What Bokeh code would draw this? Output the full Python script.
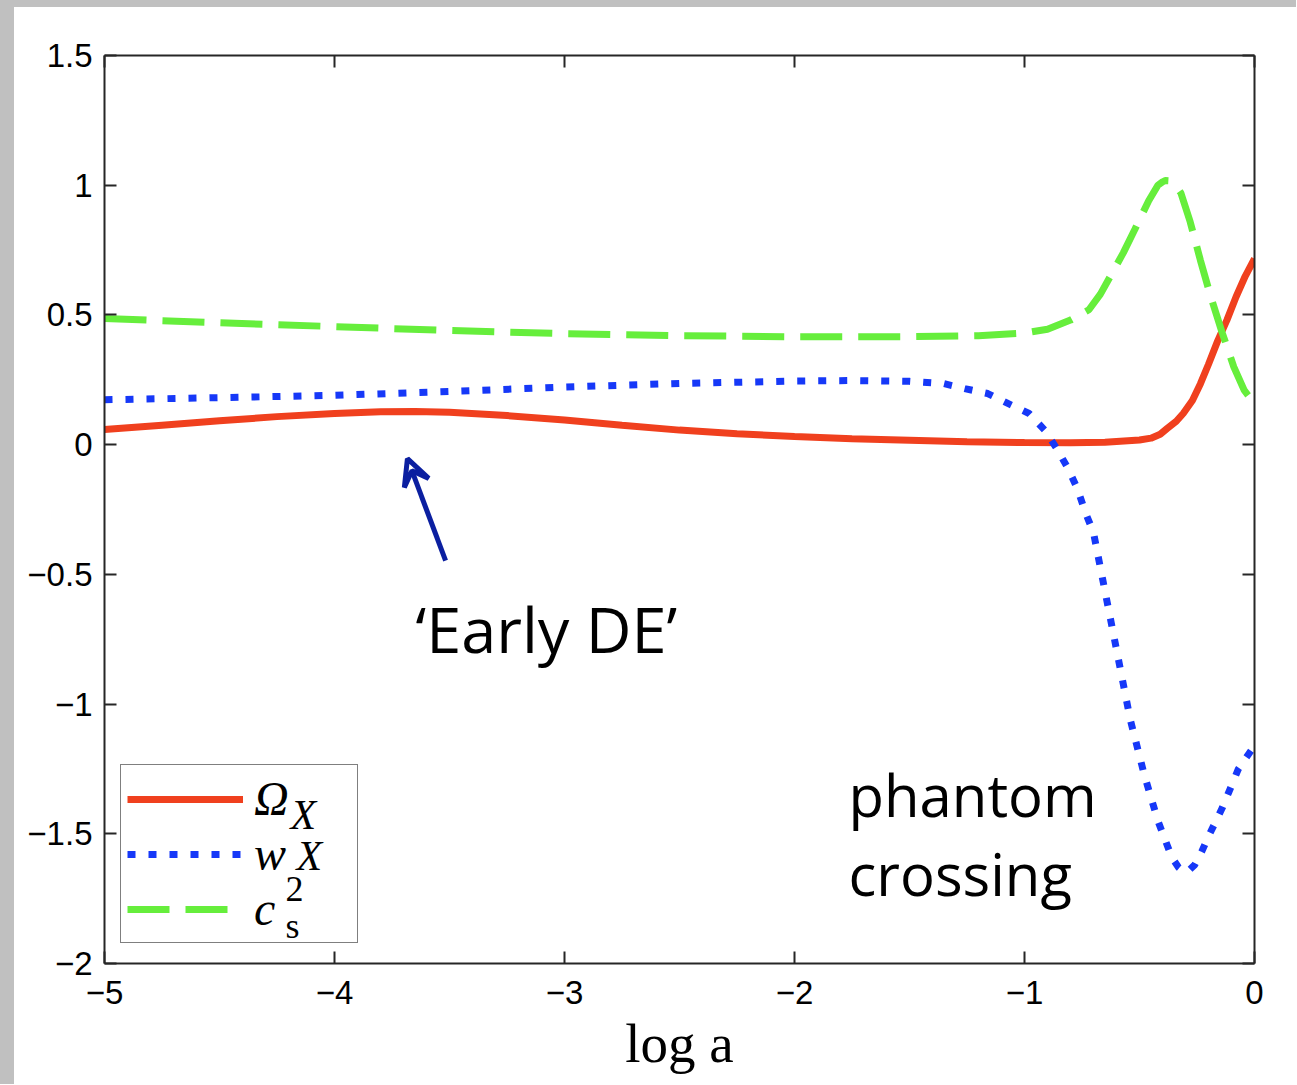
from bokeh.plotting import figure
from bokeh.models import (Range1d, FixedTicker, LinearAxis, CustomJSTickFormatter,
                          Legend, LegendItem, Label, Arrow, VeeHead, Spacer)
from bokeh.layouts import column, row
from bokeh.embed import file_html
from bokeh.resources import INLINE

# ---------------- data ----------------
x_ticks = [-5, -4, -3, -2, -1, 0]
y_ticks = [-2, -1.5, -1, -0.5, 0, 0.5, 1, 1.5]

omega_x = [-5, -4.75, -4.5, -4.25, -4.0, -3.8, -3.65, -3.5, -3.25, -3.0, -2.75, -2.5,
           -2.25, -2.0, -1.75, -1.5, -1.25, -1.0, -0.8, -0.65, -0.5, -0.45, -0.41, -0.38,
           -0.34, -0.31, -0.27, -0.235, -0.2, -0.16, -0.12, -0.08, -0.04, 0]
omega_y = [0.058, 0.075, 0.092, 0.108, 0.12, 0.127, 0.128, 0.125, 0.112, 0.095, 0.075,
           0.056, 0.042, 0.031, 0.023, 0.017, 0.011, 0.008, 0.007, 0.009, 0.018, 0.025,
           0.04, 0.062, 0.09, 0.12, 0.17, 0.235, 0.31, 0.40, 0.48, 0.57, 0.65, 0.717]

w_x = [-5, -4.5, -4, -3.5, -3, -2.5, -2, -1.75, -1.5, -1.35, -1.26, -1.16, -1.07, -0.98,
       -0.91, -0.86, -0.81, -0.77, -0.735, -0.70, -0.66, -0.6, -0.54, -0.48, -0.42,
       -0.36, -0.33, -0.31, -0.29, -0.26, -0.23, -0.2, -0.14, -0.07, 0]
w_y = [0.173, 0.181, 0.19, 0.205, 0.222, 0.236, 0.245, 0.247, 0.244, 0.235, 0.216, 0.197,
       0.158, 0.12, 0.054, -0.015, -0.093, -0.17, -0.262, -0.339, -0.52, -0.79, -1.06,
       -1.27, -1.45, -1.59, -1.63, -1.645, -1.645, -1.62, -1.57, -1.51, -1.40, -1.25, -1.16]

cs2_x = [-5, -4.5, -4, -3.5, -3, -2.5, -2, -1.5, -1.2, -1.0, -0.9, -0.8, -0.72, -0.67,
         -0.62, -0.57, -0.52, -0.46, -0.42, -0.40, -0.387, -0.37, -0.35, -0.32, -0.3,
         -0.28, -0.235, -0.19, -0.14, -0.09, -0.045, 0]
cs2_y = [0.486, 0.47, 0.455, 0.44, 0.428, 0.42, 0.416, 0.416, 0.42, 0.43, 0.445, 0.48,
         0.52, 0.58, 0.66, 0.74, 0.83, 0.94, 1.0, 1.013, 1.018, 1.017, 1.008, 0.97, 0.915,
         0.86, 0.71, 0.57, 0.43, 0.30, 0.21, 0.158]

legend_labels = ["Ω", "w", "c"]
x_label = "log a"
note_early = "‘Early DE’"
note_phantom = ["phantom", "crossing"]
arrow_tail = (-3.517, -0.447)
arrow_head = (-3.683, -0.054)

RED = "#f0401e"
BLUE = "#1638f8"
GREEN = "#66ee3c"
NAVY = "#0b1fa0"
GRAY = "#c0c0c0"

# ---------------- figure ----------------
p = figure(width=1282, height=1077, x_range=Range1d(-5, 0), y_range=Range1d(-2, 1.5),
           output_backend="svg", toolbar_location=None,
           min_border_left=90, min_border_right=42, min_border_top=48, min_border_bottom=121)
p.outline_line_color = None
p.xgrid.grid_line_color = None
p.ygrid.grid_line_color = None

minus_fmt = CustomJSTickFormatter(code="return tick.toString().replace('-', '\u2212');")
blank_fmt = CustomJSTickFormatter(code="return '';")

def style_axis(ax, labels=True):
    ax.axis_line_color = "#262626"
    ax.axis_line_width = 2
    ax.major_tick_line_color = "#262626"
    ax.major_tick_line_width = 2
    ax.major_tick_in = 12
    ax.major_tick_out = 0
    ax.minor_tick_line_color = None
    ax.major_label_text_font = "Liberation Sans"
    ax.major_label_text_font_size = "33px"
    ax.major_label_text_color = "#000000"
    if not labels:
        ax.formatter = blank_fmt
        ax.major_label_standoff = 0

p.xaxis.ticker = FixedTicker(ticks=x_ticks)
p.yaxis.ticker = FixedTicker(ticks=y_ticks)
p.xaxis.formatter = minus_fmt
p.yaxis.formatter = minus_fmt
style_axis(p.xaxis[0])
style_axis(p.yaxis[0])
p.xaxis.major_label_standoff = 17
p.yaxis.major_label_standoff = 12

p.xaxis.axis_label = x_label
p.xaxis.axis_label_text_font = "Liberation Serif"
p.xaxis.axis_label_text_font_style = "normal"
p.xaxis.axis_label_text_font_size = "55px"
p.xaxis.axis_label_text_color = "#000000"
p.xaxis.axis_label_standoff = 6

top_ax = LinearAxis(ticker=FixedTicker(ticks=x_ticks))
right_ax = LinearAxis(ticker=FixedTicker(ticks=y_ticks))
style_axis(top_ax, labels=False)
style_axis(right_ax, labels=False)
p.add_layout(top_ax, "above")
p.add_layout(right_ax, "right")

# ---------------- curves ----------------
r_om = p.line(omega_x, omega_y, line_color=RED, line_width=7)
r_w = p.line(w_x, w_y, line_color=BLUE, line_width=7, line_dash="8 13")
r_c = p.line(cs2_x, cs2_y, line_color=GREEN, line_width=7, line_dash="42 16")

legend = Legend(items=[LegendItem(label=legend_labels[0], renderers=[r_om]),
                       LegendItem(label=legend_labels[1], renderers=[r_w]),
                       LegendItem(label=legend_labels[2], renderers=[r_c])],
                location=(16, 20), margin=0, padding=6, spacing=0,
                glyph_width=116, glyph_height=40, label_height=40, label_width=97,
                label_standoff=11, label_text_font="Liberation Serif",
                label_text_font_size="48px", label_text_font_style="italic",
                label_text_color="#000000",
                border_line_color="#000000", border_line_width=1.5,
                background_fill_alpha=0)
p.add_layout(legend)

def slabel(text, sx, sy, size, style="italic"):
    p.add_layout(Label(x=sx, y=sy, x_units="screen", y_units="screen", text=text,
                       text_font="Liberation Serif", text_font_size=size,
                       text_font_style=style, level="overlay",
                       text_color="#000000", text_baseline="alphabetic", text_align="left"))

# legend sub/superscripts
slabel("X", 186, 149, "42px")
slabel("X", 192, 108, "42px")
slabel("2", 181, 75, "36px", "normal")
slabel("s", 181, 38, "36px", "normal")

# ---------------- annotations ----------------
p.add_layout(Arrow(end=VeeHead(size=26, line_color=NAVY, line_width=5, fill_alpha=0),
                   x_start=arrow_tail[0], y_start=arrow_tail[1],
                   x_end=arrow_head[0], y_end=arrow_head[1],
                   line_color=NAVY, line_width=5))

def note(text, x, y, size):
    p.add_layout(Label(x=x, y=y, text=text, text_font="Open Sans", text_font_size=size,
                       text_color="#000000", text_baseline="alphabetic", text_align="left"))

note(note_early, -3.648, -0.708, "63px")
note(note_phantom[0], -1.765, -1.35, "58px")
note(note_phantom[1], -1.765, -1.654, "58px")

gray_top = Spacer(width=1296, height=7, styles={"background-color": GRAY})
gray_left = Spacer(width=14, height=1077, styles={"background-color": GRAY})
page = column(gray_top, row(gray_left, p))

open("out.html", "w", encoding="utf-8").write(file_html(page, INLINE))
